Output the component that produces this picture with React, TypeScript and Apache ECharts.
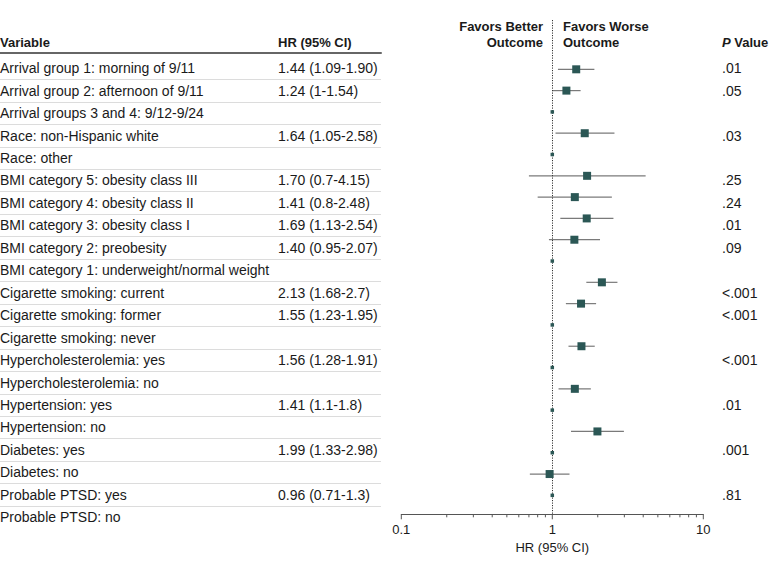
import React, { useEffect, useRef } from "react";
import * as echarts from "echarts";

const variables = [
  "Arrival group 1: morning of 9/11",
  "Arrival group 2: afternoon of 9/11",
  "Arrival groups 3 and 4: 9/12-9/24",
  "Race: non-Hispanic white",
  "Race: other",
  "BMI category 5: obesity class III",
  "BMI category 4: obesity class II",
  "BMI category 3: obesity class I",
  "BMI category 2: preobesity",
  "BMI category 1: underweight/normal weight",
  "Cigarette smoking: current",
  "Cigarette smoking: former",
  "Cigarette smoking: never",
  "Hypercholesterolemia: yes",
  "Hypercholesterolemia: no",
  "Hypertension: yes",
  "Hypertension: no",
  "Diabetes: yes",
  "Diabetes: no",
  "Probable PTSD: yes",
  "Probable PTSD: no",
];

const hrTexts = [
  "1.44 (1.09-1.90)", "1.24 (1-1.54)", "", "1.64 (1.05-2.58)", "",
  "1.70 (0.7-4.15)", "1.41 (0.8-2.48)", "1.69 (1.13-2.54)", "1.40 (0.95-2.07)", "",
  "2.13 (1.68-2.7)", "1.55 (1.23-1.95)", "", "1.56 (1.28-1.91)", "",
  "1.41 (1.1-1.8)", "", "1.99 (1.33-2.98)", "", "0.96 (0.71-1.3)", "",
];

const pValues = [
  ".01", ".05", "", ".03", "",
  ".25", ".24", ".01", ".09", "",
  "<.001", "<.001", "", "<.001", "",
  ".01", "", ".001", "", ".81", "",
];

const hr = [1.44, 1.24, 1, 1.64, 1, 1.7, 1.41, 1.69, 1.4, 1, 2.13, 1.55, 1, 1.56, 1, 1.41, 1, 1.99, 1, 0.96, 1];
const ciLow = [1.09, 1, null, 1.05, null, 0.7, 0.8, 1.13, 0.95, null, 1.68, 1.23, null, 1.28, null, 1.1, null, 1.33, null, 0.71, null];
const ciHigh = [1.9, 1.54, null, 2.58, null, 4.15, 2.48, 2.54, 2.07, null, 2.7, 1.95, null, 1.91, null, 1.8, null, 2.98, null, 1.3, null];

const tickValues = [0.1, 0.2, 0.3, 0.4, 0.5, 0.6, 0.7, 0.8, 0.9, 1, 2, 3, 4, 5, 6, 7, 8, 9, 10];
const majorTicks = [0.1, 1, 10];

const FONT = '"Liberation Sans", Arial, sans-serif';
const MARK = "#2b5755";

export default function App() {
  const ref = useRef<HTMLDivElement>(null);
  useEffect(() => {
    document.body.style.margin = "0";
    const chart = echarts.init(ref.current!, null, { renderer: "svg" });
    const Y_MIN = -2.315;
    const Y_MAX = 20.89;

    const pointData = hr.map((v, i) => ({
      value: [v, i],
      symbolSize: ciLow[i] == null ? 3.5 : 8,
    }));
    const ciData = hr
      .map((_, i) => i)
      .filter((i) => ciLow[i] != null)
      .map((i) => [ciLow[i], ciHigh[i], i]);
    const tickData = tickValues.map((v) => [v, majorTicks.includes(v) ? 1 : 0]);

    const text = (x: number, y: number, t: string, align: string) => ({
      type: "text",
      x,
      y,
      style: {
        text: t,
        font: `bold 13px ${FONT}`,
        fill: "#1a1a1a",
        align,
        verticalAlign: "middle",
      },
    });

    chart.setOption({
      animation: false,
      textStyle: { fontFamily: FONT },
      grid: [
        { left: 401.3, right: 79.7, top: 20, bottom: 54.7, outerBoundsMode: "none" },
        { left: 0, width: 381, top: 57, height: 471.5, outerBoundsMode: "none" },
      ],
      xAxis: [
        {
          type: "log",
          logBase: 10,
          min: 0.1,
          max: 10,
          gridIndex: 0,
          axisLine: { show: true, onZero: false, lineStyle: { color: "#555", width: 1 } },
          axisTick: { show: false },
          splitLine: { show: false },
          minorTick: { show: false },
          axisLabel: {
            margin: 9,
            fontSize: 13,
            color: "#1a1a1a",
            fontFamily: FONT,
            formatter: (v: number) => String(Number(v.toPrecision(3))),
          },
          name: "HR (95% CI)",
          nameLocation: "middle",
          nameGap: 27,
          nameTextStyle: { fontSize: 13, color: "#1a1a1a", fontFamily: FONT },
        },
        {
          type: "value",
          gridIndex: 1,
          position: "top",
          offset: 4,
          axisLine: { show: true, onZero: false, lineStyle: { color: "#666", width: 2 } },
          axisTick: { show: false },
          axisLabel: { show: false },
          splitLine: { show: false },
        },
      ],
      yAxis: [
        {
          type: "value",
          gridIndex: 0,
          min: Y_MIN,
          max: Y_MAX,
          inverse: true,
          show: false,
        },
        {
          type: "category",
          gridIndex: 1,
          data: variables,
          inverse: true,
          position: "left",
          axisLine: { show: false },
          axisTick: { show: false },
          axisLabel: {
            inside: true,
            margin: 0,
            interval: 0,
            align: "left",
            fontSize: 14,
            color: "#1a1a1a",
            fontFamily: FONT,
          },
          splitLine: {
            show: true,
            interval: 0,
            showMinLine: false,
            showMaxLine: false,
            lineStyle: { color: "#dcdcdc", width: 1 },
          },
        },
        {
          type: "category",
          gridIndex: 1,
          data: variables,
          inverse: true,
          position: "left",
          offset: -278,
          axisLine: { show: false },
          axisTick: { show: false },
          splitLine: { show: false },
          axisLabel: {
            inside: true,
            margin: 0,
            interval: 0,
            align: "left",
            fontSize: 14,
            color: "#1a1a1a",
            fontFamily: FONT,
            formatter: (_: string, idx: number) => hrTexts[idx],
          },
        },
        {
          type: "category",
          gridIndex: 1,
          data: variables,
          inverse: true,
          position: "left",
          offset: -722,
          axisLine: { show: false },
          axisTick: { show: false },
          splitLine: { show: false },
          axisLabel: {
            inside: true,
            margin: 0,
            interval: 0,
            align: "left",
            fontSize: 14,
            color: "#1a1a1a",
            fontFamily: FONT,
            formatter: (_: string, idx: number) => pValues[idx],
          },
        },
      ],
      series: [
        {
          type: "custom",
          xAxisIndex: 0,
          yAxisIndex: 0,
          data: ciData,
          encode: { x: [0, 1], y: 2 },
          z: 1,
          renderItem: (_p: any, api: any) => {
            const a = api.coord([api.value(0), api.value(2)]);
            const b = api.coord([api.value(1), api.value(2)]);
            return {
              type: "line",
              shape: { x1: a[0], y1: a[1], x2: b[0], y2: b[1] },
              style: { stroke: "#7a7a7a", lineWidth: 1.2 },
            };
          },
        },
        {
          type: "custom",
          xAxisIndex: 0,
          yAxisIndex: 0,
          data: tickData,
          encode: { x: 0 },
          clip: false,
          z: 1,
          renderItem: (_p: any, api: any) => {
            const p = api.coord([api.value(0), Y_MAX]);
            const len = api.value(1) ? 5 : 3;
            return {
              type: "line",
              shape: { x1: p[0], y1: p[1], x2: p[0], y2: p[1] + len },
              style: { stroke: "#555", lineWidth: 1 },
            };
          },
        },
        {
          type: "scatter",
          xAxisIndex: 0,
          yAxisIndex: 0,
          symbol: "rect",
          data: pointData,
          itemStyle: { color: MARK, opacity: 1 },
          z: 3,
          markLine: {
            silent: true,
            symbol: "none",
            label: { show: false },
            lineStyle: { type: [1.2, 1.3], color: "#333", width: 1 },
            data: [{ xAxis: 1 }],
            z: 2,
          },
        },
      ],
      graphic: [
        text(0, 42.5, "Variable", "left"),
        text(278, 42.5, "HR (95% CI)", "left"),
        text(543, 26, "Favors Better", "right"),
        text(543, 42.5, "Outcome", "right"),
        text(563, 26, "Favors Worse", "left"),
        text(563, 42.5, "Outcome", "left"),
        {
          type: "text",
          x: 722,
          y: 42.5,
          style: {
            text: "{p|P} Value",
            font: `bold 13px ${FONT}`,
            fill: "#1a1a1a",
            align: "left",
            verticalAlign: "middle",
            rich: {
              p: { fontStyle: "italic", fontWeight: "bold", fontSize: 13, fontFamily: FONT, fill: "#1a1a1a" },
            },
          },
        },
      ],
    });
    return () => chart.dispose();
  }, []);
  return <div ref={ref} style={{ width: 783, height: 569 }} />;
}
